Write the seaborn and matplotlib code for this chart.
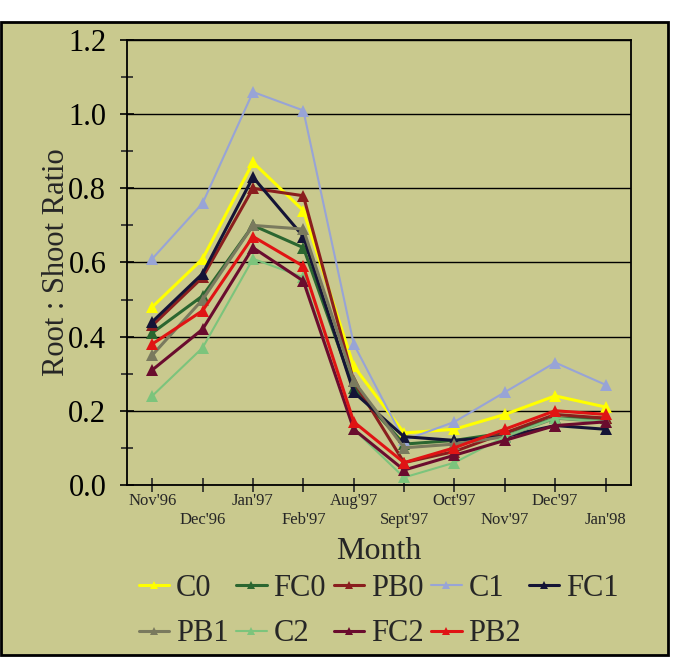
import matplotlib
matplotlib.use('Agg')
import matplotlib.pyplot as plt
import seaborn as sns
import numpy as np
import pandas as pd
from matplotlib.patches import Rectangle

# Root : Shoot ratio by month for each treatment
months = ["Nov'96", "Dec'96", "Jan'97", "Feb'97", "Aug'97",
          "Sept'97", "Oct'97", "Nov'97", "Dec'97", "Jan'98"]

C0 = [0.48, 0.61, 0.87, 0.74, 0.32, 0.14, 0.15, 0.19, 0.24, 0.21]
FC0 = [0.41, 0.51, 0.70, 0.64, 0.26, 0.11, 0.12, 0.14, 0.18, 0.18]
PB0 = [0.43, 0.56, 0.80, 0.78, 0.28, 0.06, 0.09, 0.14, 0.19, 0.18]
C1 = [0.61, 0.76, 1.06, 1.01, 0.38, 0.12, 0.17, 0.25, 0.33, 0.27]
FC1 = [0.44, 0.57, 0.83, 0.67, 0.25, 0.13, 0.12, 0.13, 0.16, 0.15]
PB1 = [0.35, 0.50, 0.70, 0.69, 0.28, 0.10, 0.11, 0.13, 0.18, 0.17]
C2 = [0.24, 0.37, 0.61, 0.56, 0.15, 0.02, 0.06, 0.13, 0.18, 0.17]
FC2 = [0.31, 0.42, 0.64, 0.55, 0.15, 0.04, 0.08, 0.12, 0.16, 0.17]
PB2 = [0.38, 0.47, 0.67, 0.59, 0.17, 0.06, 0.10, 0.15, 0.20, 0.19]

series = {'C0': C0, 'FC0': FC0, 'PB0': PB0, 'C1': C1, 'FC1': FC1,
          'PB1': PB1, 'C2': C2, 'FC2': FC2, 'PB2': PB2}
colors = {'C0': '#ffff00', 'FC0': '#2b6630', 'PB0': '#8a1e1e', 'C1': '#98a4d6',
          'FC1': '#141436', 'PB1': '#7a7a5e', 'C2': '#7cc47c', 'FC2': '#6a0c2e',
          'PB2': '#e01414'}
widths = {'C1': 1.5, 'C2': 1.5}

bg = '#c9c98e'

sns.set_style('ticks')
plt.rcParams['font.family'] = ['Liberation Serif', 'DejaVu Serif']

fig = plt.figure(figsize=(6.76, 6.57), dpi=100)
fig.patch.set_facecolor('white')
fig.patches.append(Rectangle((0.002, 0.003), 0.986, 0.963, transform=fig.transFigure,
                             facecolor=bg, edgecolor='black', linewidth=2, zorder=-1))

ax = fig.add_axes([0.188, 0.262, 0.745, 0.677])
ax.set_facecolor(bg)

x = np.arange(len(months))
for name, vals in series.items():
    sns.lineplot(x=x, y=vals, color=colors[name], marker='^', markersize=8,
                 markeredgewidth=0, linewidth=widths.get(name, 2.2), label=name, ax=ax)

ax.set_xlim(-0.5, len(months) - 0.5)
ax.set_ylim(0, 1.2)
yt = np.arange(0, 1.21, 0.2)
ax.set_yticks(yt)
ax.set_yticklabels([f'{v:.1f}' for v in yt])
ax.set_yticks(np.arange(0.1, 1.2, 0.2), minor=True)
ax.yaxis.grid(True, color='black', linewidth=1)
ax.set_axisbelow(True)

ax.set_xticks(x)
ax.set_xticklabels([m if i % 2 == 0 else '\n' + m for i, m in enumerate(months)])
ax.tick_params(axis='y', which='major', direction='inout', length=10, width=1.2,
               labelsize=22, pad=10, colors='black')
ax.tick_params(axis='y', which='minor', direction='inout', length=8, width=1.2)
ax.tick_params(axis='x', direction='inout', length=10, width=1.2, labelsize=12, pad=1)
for s in ax.spines.values():
    s.set_color('black')
    s.set_linewidth(1.3)

ax.set_xlabel('Month', fontsize=23, labelpad=7)
ax.set_ylabel('Root : Shoot Ratio', fontsize=22, labelpad=-2)

handles, labels = ax.get_legend_handles_labels()
ax.get_legend().remove()
lookup = dict(zip(labels, handles))
order = ['C0', 'PB1', 'FC0', 'C2', 'PB0', 'FC2', 'C1', 'PB2', 'FC1']
fig.legend([lookup[k] for k in order], order, ncol=5, loc='upper left',
           bbox_to_anchor=(0.205, 0.127), frameon=False, fontsize=22,
           handlelength=1.0, handletextpad=0.22, columnspacing=0.25,
           labelspacing=0.55, borderpad=0, borderaxespad=0, markerscale=0.8)

fig.savefig('out.png', dpi=100)
